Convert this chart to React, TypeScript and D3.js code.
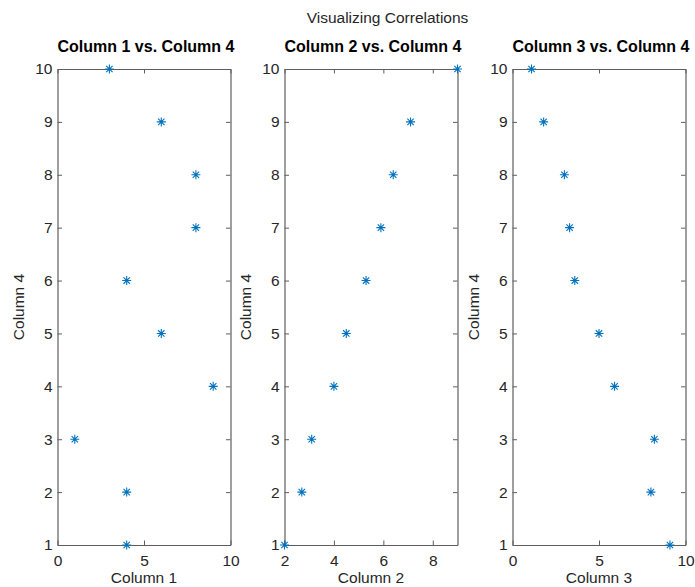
import React, { useEffect, useRef } from 'react';
import * as d3 from 'd3';

// Column 4 values (shared y for every panel)
const column4 = [10, 9, 8, 7, 6, 5, 4, 3, 2, 1];
const column1 = [3, 6, 8, 8, 4, 6, 9, 1, 4, 4];
const column2 = [9, 7.1, 6.4, 5.9, 5.3, 4.5, 4, 3.1, 2.7, 2];
const column3 = [1.1, 1.8, 3.0, 3.3, 3.6, 5.0, 5.9, 8.2, 8.0, 9.1];

const panelTitles = ['Column 1 vs. Column 4', 'Column 2 vs. Column 4', 'Column 3 vs. Column 4'];
const xLabels = ['Column 1', 'Column 2', 'Column 3'];
const xDomains: [number, number][] = [[0, 10], [2, 9], [0, 10]];
const xTickValues = [[0, 5, 10], [2, 4, 6, 8], [0, 5, 10]];
const yTickValues = [1, 2, 3, 4, 5, 6, 7, 8, 9, 10];

const App = () => {
  const svgRef = useRef<SVGSVGElement>(null);

  useEffect(() => {
    const width = 695;
    const height = 587;
    const lefts = [57.5, 284.5, 512.5];
    const plotW = 173;
    const top = 69;
    const bottom = 545;
    const textColor = '#262626';
    const font = '"Liberation Sans", Arial, sans-serif';
    const blue = '#0072BD';
    const boxColor = '#5e5e5e';
    const tick = 4.5;

    const svg = d3.select(svgRef.current)
      .attr('width', width)
      .attr('height', height);
    svg.selectAll('*').remove();

    svg.append('rect').attr('width', width).attr('height', height).attr('fill', '#fff');

    svg.append('text')
      .attr('x', 387.5)
      .attr('y', 23)
      .attr('text-anchor', 'middle')
      .attr('font-family', font)
      .attr('font-size', 15.5)
      .attr('fill', textColor)
      .text('Visualizing Correlations');

    const xs = [column1, column2, column3];

    xs.forEach((xVals, i) => {
      const left = lefts[i];
      const xScale = d3.scaleLinear().domain(xDomains[i]).range([left, left + plotW]);
      const yScale = d3.scaleLinear().domain([1, 10]).range([bottom, top]);
      const g = svg.append('g');

      const styleAxis = (a: any, labels: boolean) => {
        a.select('.domain').attr('stroke', boxColor).attr('stroke-width', 1.2);
        a.selectAll('.tick line').attr('stroke', boxColor);
        a.selectAll('.tick text')
          .attr('fill', textColor)
          .attr('font-family', font)
          .attr('font-size', 15.5)
          .style('display', labels ? null : 'none');
      };

      const bx = g.append('g')
        .attr('transform', `translate(0,${bottom})`)
        .call(d3.axisBottom(xScale).tickValues(xTickValues[i]).tickFormat(d3.format('d')).tickSizeInner(-tick).tickSizeOuter(0).tickPadding(10));
      styleAxis(bx, true);
      const tx = g.append('g')
        .attr('transform', `translate(0,${top})`)
        .call(d3.axisTop(xScale).tickValues(xTickValues[i]).tickSizeInner(-tick).tickSizeOuter(0));
      styleAxis(tx, false);
      const ly = g.append('g')
        .attr('transform', `translate(${left},0)`)
        .call(d3.axisLeft(yScale).tickValues(yTickValues).tickFormat(d3.format('d')).tickSizeInner(-tick).tickSizeOuter(0).tickPadding(5));
      styleAxis(ly, true);
      const ry = g.append('g')
        .attr('transform', `translate(${left + plotW},0)`)
        .call(d3.axisRight(yScale).tickValues(yTickValues).tickSizeInner(-tick).tickSizeOuter(0));
      styleAxis(ry, false);

      g.append('text')
        .attr('x', left + plotW / 2 + 2)
        .attr('y', 52)
        .attr('text-anchor', 'middle')
        .attr('font-family', font)
        .attr('font-weight', 'bold')
        .attr('font-size', 16)
        .attr('fill', '#000')
        .text(panelTitles[i]);

      g.append('text')
        .attr('x', left + plotW / 2)
        .attr('y', 583)
        .attr('text-anchor', 'middle')
        .attr('font-family', font)
        .attr('font-size', 15.5)
        .attr('fill', textColor)
        .text(xLabels[i]);

      g.append('text')
        .attr('transform', `translate(${left - 34},${(top + bottom) / 2}) rotate(-90)`)
        .attr('text-anchor', 'middle')
        .attr('font-family', font)
        .attr('font-size', 15.5)
        .attr('fill', textColor)
        .text('Column 4');

      const r = 4.5;
      const d = r * Math.SQRT1_2;
      const star = `M${-r},0L${r},0M0,${-r}L0,${r}M${-d},${-d}L${d},${d}M${-d},${d}L${d},${-d}`;
      g.selectAll('.pt')
        .data(xVals.map((x, k) => ({ x, y: column4[k] })))
        .enter()
        .append('path')
        .attr('class', 'pt')
        .attr('transform', p => `translate(${xScale(p.x)},${yScale(p.y)})`)
        .attr('d', star)
        .attr('fill', 'none')
        .attr('stroke', blue)
        .attr('stroke-width', 1.1);
    });
  }, []);

  return (
    <svg ref={svgRef} style={{ position: 'absolute', left: 0, top: 0 }}></svg>
  );
};

export default App;
